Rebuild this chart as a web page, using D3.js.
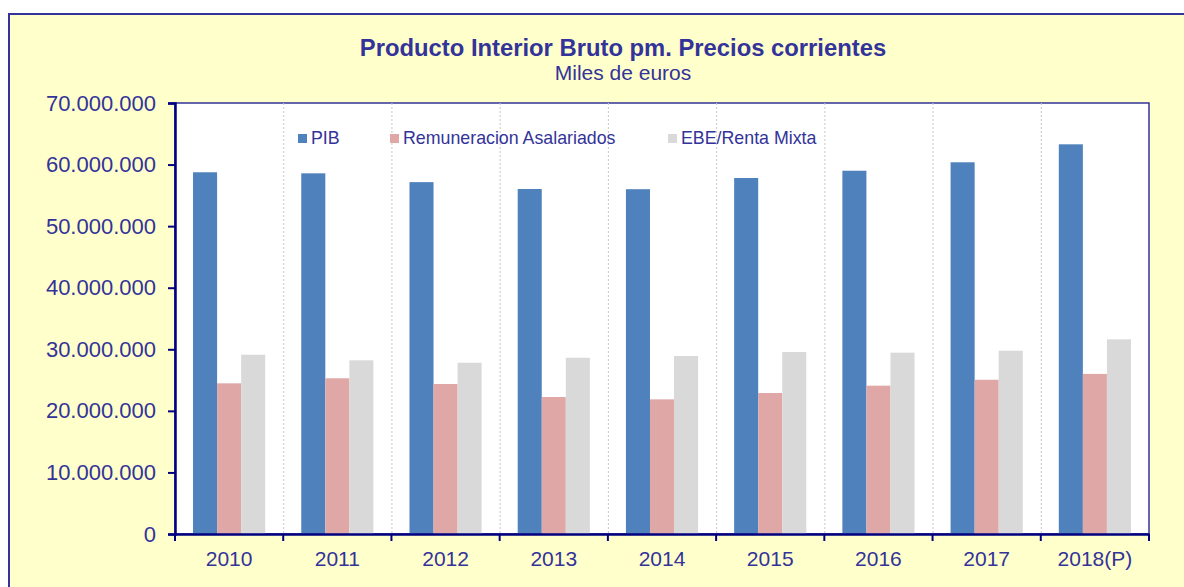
<!DOCTYPE html>
<html>
<head>
<meta charset="utf-8">
<script src="https://cdn.jsdelivr.net/npm/d3@7"></script>
<style>
  body { margin: 0; background: #fff; }
  text { font-family: "Liberation Sans", Arial, sans-serif; }
</style>
</head>
<body>
<div id="vis-container"></div>
<script>
// data (miles de euros)
const years = ["2010", "2011", "2012", "2013", "2014", "2015", "2016", "2017", "2018(P)"];
const pib = [58750000, 58580000, 57150000, 56030000, 56000000, 57820000, 59000000, 60370000, 63290000];
const remuneracion = [24470000, 25290000, 24360000, 22250000, 21870000, 22900000, 24090000, 25050000, 26000000];
const ebe = [29120000, 28210000, 27820000, 28630000, 28910000, 29560000, 29450000, 29770000, 31620000];
const seriesNames = ["PIB", "Remuneracion Asalariados", "EBE/Renta Mixta"];
const seriesColors = ["#4f81bd", "#e0a7a7", "#d9d9d9"];
const yTicks = [0, 10000000, 20000000, 30000000, 40000000, 50000000, 60000000, 70000000];

let width = 1184, height = 587;
let margins = { top: 103, right: 35, bottom: 53, left: 175 };
let visWidth = width - margins.left - margins.right;
let visHeight = height - margins.top - margins.bottom;
const textColor = "#333399";
const axisColor = "#000080";

var svg = d3.select("#vis-container").append("svg")
  .attr("width", width)
  .attr("height", height);

// outer chart box
svg.append("rect")
  .attr("x", 9).attr("y", 14)
  .attr("width", width).attr("height", height)
  .attr("fill", "#ffffcc")
  .attr("stroke", "#333399")
  .attr("stroke-width", 2);

svg.append("text")
  .attr("x", 623).attr("y", 56)
  .attr("text-anchor", "middle")
  .attr("font-size", 23.8).attr("font-weight", "bold")
  .attr("fill", textColor)
  .text("Producto Interior Bruto pm. Precios corrientes");
svg.append("text")
  .attr("x", 623).attr("y", 80)
  .attr("text-anchor", "middle")
  .attr("font-size", 21)
  .attr("fill", textColor)
  .text("Miles de euros");

let viewport = svg.append("g")
  .attr("transform", "translate(" + margins.left + "," + margins.top + ")");

viewport.append("rect")
  .attr("width", visWidth).attr("height", visHeight)
  .attr("fill", "#fff")
  .attr("stroke", "#333399")
  .attr("stroke-width", 1.5);

let x = d3.scaleBand().domain(years).range([0, visWidth]).paddingInner(0).paddingOuter(0);
let y = d3.scaleLinear().domain([0, 70000000]).range([visHeight, 0]);
let xSub = d3.scaleBand().domain(seriesNames).range([0, x.bandwidth()]).paddingOuter(0.75).paddingInner(0);

// dotted separators between categories
viewport.append("g").selectAll("line")
  .data(years.slice(1))
  .join("line")
  .attr("x1", d => x(d) + 0.5).attr("x2", d => x(d) + 0.5)
  .attr("y1", 0).attr("y2", visHeight)
  .attr("stroke", "#c8c8c8")
  .attr("stroke-dasharray", "2,2");

const rows = years.map((yr, i) => ({ year: yr, values: [pib[i], remuneracion[i], ebe[i]] }));

let groups = viewport.append("g").selectAll("g")
  .data(rows)
  .join("g")
  .attr("transform", d => "translate(" + x(d.year) + ",0)");

groups.selectAll("rect")
  .data(d => d.values.map((v, k) => ({ name: seriesNames[k], value: v, k: k })))
  .join("rect")
  .attr("x", d => xSub(d.name))
  .attr("width", xSub.bandwidth())
  .attr("y", d => y(d.value))
  .attr("height", d => visHeight - y(d.value))
  .attr("fill", d => seriesColors[d.k]);

// y axis
let yAxis = viewport.append("g")
  .call(d3.axisLeft(y).tickValues(yTicks).tickSize(7).tickPadding(12)
    .tickFormat(d => d3.format(",")(d).replace(/,/g, ".")));
yAxis.select(".domain").attr("stroke", axisColor).attr("stroke-width", 2.5);
yAxis.selectAll(".tick line").attr("stroke", axisColor).attr("stroke-width", 2);
yAxis.selectAll(".tick text").attr("fill", textColor).attr("font-size", 22)
  .attr("font-family", "Liberation Sans, Arial, sans-serif");

// x axis
let xAxis = viewport.append("g")
  .attr("transform", "translate(0," + visHeight + ")")
  .call(d3.axisBottom(x).tickSize(0).tickPadding(17));
xAxis.select(".domain").attr("stroke", axisColor).attr("stroke-width", 2.5);
xAxis.selectAll(".tick text").attr("fill", textColor).attr("font-size", 21)
  .attr("font-family", "Liberation Sans, Arial, sans-serif");
xAxis.append("g").selectAll("line")
  .data(d3.range(years.length + 1))
  .join("line")
  .attr("x1", i => i * x.step()).attr("x2", i => i * x.step())
  .attr("y1", 0).attr("y2", 7)
  .attr("stroke", axisColor).attr("stroke-width", 2);

// legend
const legendX = [298, 390, 668];
let legend = svg.append("g").selectAll("g")
  .data(seriesNames)
  .join("g")
  .attr("transform", (d, i) => "translate(" + legendX[i] + ",134)");
legend.append("rect")
  .attr("x", 0).attr("y", 0).attr("width", 9).attr("height", 9)
  .attr("fill", (d, i) => seriesColors[i]);
legend.append("text")
  .attr("x", 13).attr("y", 10)
  .attr("font-size", 17.8)
  .attr("fill", textColor)
  .text(d => d);
</script>
</body>
</html>
